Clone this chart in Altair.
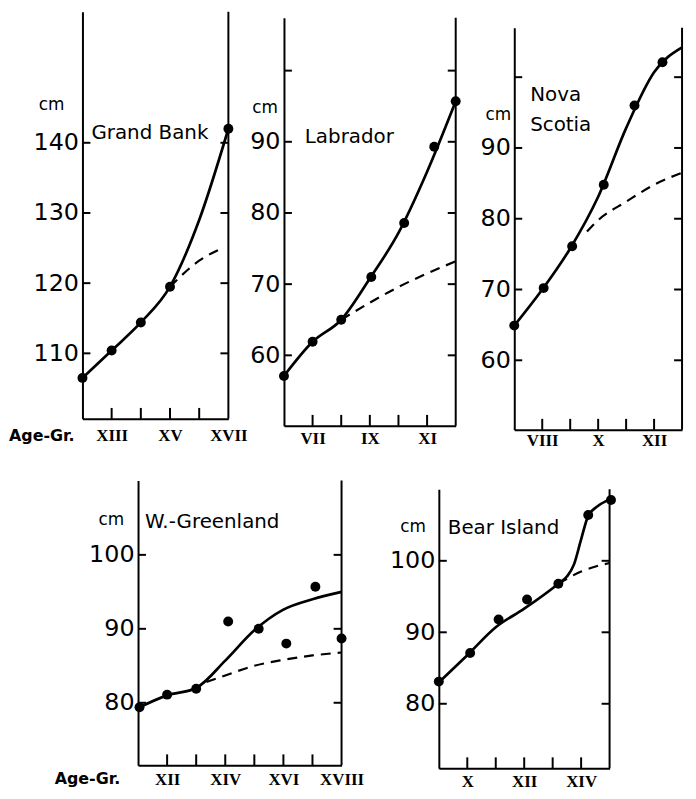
import altair as alt
import pandas as pd

FONT = "DejaVu Sans"
ROMAN_FONT = "Liberation Serif"

# ---------------- data ----------------
# Grand Bank
gb_dot_age = [12, 13, 14, 15, 17]
gb_dot_cm = [106.5, 110.4, 114.4, 119.5, 142.0]
gb_fit_age = [12, 13, 14, 15, 16, 17]
gb_fit_cm = [106.5, 110.4, 114.4, 119.5, 129.0, 142.0]
gb_dash_age = [15, 16, 16.85]
gb_dash_cm = [119.5, 123.2, 125.1]
gb_xlab_vals = [13, 15, 17]
gb_xlab_text = ["XIII", "XV", "XVII"]
gb_xtick_vals = [13, 14, 15, 16]
gb_ylab_vals = [110, 120, 130, 140]
gb_ytick_vals = [110, 120, 130, 140]

# Labrador
lab_dot_age = [6, 7, 8, 9.05, 10.2, 11.25, 12]
lab_dot_cm = [57.1, 61.9, 65.0, 71.0, 78.6, 89.3, 95.7]
lab_fit_age = [6, 7, 8, 9, 10, 11, 12]
lab_fit_cm = [57.1, 61.9, 65.0, 70.8, 77.2, 85.8, 95.7]
lab_dash_age = [8, 9, 10, 11, 12]
lab_dash_cm = [65.0, 67.4, 69.6, 71.5, 73.2]
lab_xlab_vals = [7, 9, 11]
lab_xlab_text = ["VII", "IX", "XI"]
lab_xtick_vals = [7, 8, 9, 10, 11]
lab_ylab_vals = [60, 70, 80, 90]
lab_ytick_vals = [60, 70, 80, 90, 100]

# Nova Scotia
ns_dot_age = [7, 8.05, 9.07, 10.2, 11.3, 12.3]
ns_dot_cm = [64.9, 70.2, 76.1, 84.8, 96.0, 102.1]
ns_fit_age = [7, 8, 9, 10, 11, 12, 13]
ns_fit_cm = [64.9, 70.0, 75.8, 83.1, 92.8, 100.7, 104.2]
ns_dash_age = [9.6, 10, 11, 12, 13]
ns_dash_cm = [78.2, 79.8, 82.4, 84.8, 86.5]
ns_xlab_vals = [8, 10, 12]
ns_xlab_text = ["VIII", "X", "XII"]
ns_xtick_vals = [8, 9, 10, 11, 12]
ns_ylab_vals = [60, 70, 80, 90]
ns_ytick_vals = [60, 70, 80, 90, 100]

# W.-Greenland
wg_dot_age = [11.05, 12, 13, 14.1, 15.15, 16.1, 17.1, 18]
wg_dot_cm = [79.4, 81.1, 81.9, 91.0, 90.0, 88.0, 95.7, 88.7]
wg_fit_age = [11, 12, 13, 14, 15, 16, 17, 18]
wg_fit_cm = [79.3, 81.0, 82.0, 85.7, 89.8, 92.6, 94.0, 95.0]
wg_dash_age = [13.35, 14, 15, 16, 17, 18]
wg_dash_cm = [82.8, 83.7, 85.0, 85.8, 86.4, 86.8]
wg_xlab_vals = [12, 14, 16, 18]
wg_xlab_text = ["XII", "XIV", "XVI", "XVIII"]
wg_xtick_vals = [12, 13, 14, 15, 16, 17]
wg_ylab_vals = [80, 90, 100]
wg_ytick_vals = [80, 90, 100]

# Bear Island
bi_dot_age = [9, 10.1, 11.1, 12.1, 13.2, 14.25, 15.05]
bi_dot_cm = [83.1, 87.1, 91.8, 94.6, 96.8, 106.4, 108.5]
bi_fit_age = [9, 10, 11, 12, 13.2, 13.5, 13.75, 14, 14.25, 14.6, 15]
bi_fit_cm = [83.0, 86.8, 90.7, 93.3, 96.8, 97.8, 99.5, 103.0, 106.3, 107.7, 108.6]
bi_dash_age = [13.2, 14, 15]
bi_dash_cm = [96.8, 98.5, 99.7]
bi_xlab_vals = [10, 12, 14]
bi_xlab_text = ["X", "XII", "XIV"]
bi_xtick_vals = [10, 11, 12, 13, 14]
bi_ylab_vals = [80, 90, 100]
bi_ytick_vals = [80, 90, 100]

# text
titles = ["Grand Bank", "Labrador", "Nova", "Scotia", "W.-Greenland", "Bear Island"]
unit_label = "cm"
age_label = "Age-Gr."

W, H = 680, 779
M = 8  # page margin


def roman_expr(vals, labels):
    expr = "''"
    for v, l in reversed(list(zip(vals, labels))):
        expr = f"datum.value == {v} ? '{l}' : ({expr})"
    return expr


def text_layer(txt, x, y, size, align="left", weight="normal"):
    return alt.Chart(pd.DataFrame({"t": [txt]})).mark_text(
        align=align, baseline="middle", font=FONT, fontSize=size,
        fontWeight=weight, color="black"
    ).encode(text="t:N", x=alt.value(x - M), y=alt.value(y - M))


def panel(box, xdom, yref, ppu, dot_age, dot_cm, fit_age, fit_cm,
          dash_age, dash_cm, xlab_vals, xlab_text, xtick_vals,
          ylab_vals, ytick_vals, xlab_pad, texts):
    # box: page pixel positions of left/right/top/bottom axis lines
    x0, x1, top, bot = [v - M for v in box]
    ref_val, ref_pix = yref
    ref_pix -= M
    ydom = [ref_val - (bot - ref_pix) / ppu, ref_val + (ref_pix - top) / ppu]
    X = alt.X("age:Q", title=None,
              scale=alt.Scale(domain=xdom, range=[x0, x1], nice=False, zero=False),
              axis=alt.Axis(orient="bottom", offset=bot - H, values=xlab_vals,
                            labelExpr=roman_expr(xlab_vals, xlab_text),
                            title=None, ticks=False, tickSize=0, grid=False, domainWidth=2,
                            domainColor="black", labelFont=ROMAN_FONT,
                            labelFontWeight="bold", labelFontSize=17,
                            labelBaseline="middle", labelPadding=xlab_pad,
                            labelColor="black", labelFlush=False, labelOverlap=False))
    Y = alt.Y("cm:Q", title=None,
              scale=alt.Scale(domain=ydom, range=[bot, top], nice=False, zero=False),
              axis=alt.Axis(orient="left", offset=-x0, values=ylab_vals, format="d",
                            title=None, ticks=False, tickSize=0, grid=False,
                            domainWidth=2, domainColor="black",
                            labelFont=FONT, labelFontSize=24, labelPadding=4,
                            labelColor="black", labelFlush=False, labelOverlap=False))
    fit = alt.Chart(pd.DataFrame({"age": fit_age, "cm": fit_cm})).mark_line(
        color="black", strokeWidth=2.7, interpolate="monotone").encode(x=X, y=Y)
    dash = alt.Chart(pd.DataFrame({"age": dash_age, "cm": dash_cm})).mark_line(
        color="black", strokeWidth=2.2, strokeDash=[10, 7],
        interpolate="monotone").encode(x=X, y=Y)
    dots = alt.Chart(pd.DataFrame({"age": dot_age, "cm": dot_cm})).mark_circle(
        color="black", size=100, opacity=1).encode(x=X, y=Y)
    ytk = pd.DataFrame({"cm": ytick_vals})
    lt = alt.Chart(ytk).mark_rule(color="black", strokeWidth=2).encode(
        y=Y, x=alt.value(x0), x2=alt.value(x0 + 8))
    rt = alt.Chart(ytk).mark_rule(color="black", strokeWidth=2).encode(
        y=Y, x=alt.value(x1 - 8), x2=alt.value(x1))
    bt = alt.Chart(pd.DataFrame({"age": xtick_vals})).mark_rule(
        color="black", strokeWidth=2).encode(x=X, y=alt.value(bot - 11), y2=alt.value(bot))
    raxis = alt.Chart(pd.DataFrame({"age": [xdom[1]]})).mark_rule(
        color="black", strokeWidth=2).encode(x=X, y=alt.value(top), y2=alt.value(bot))
    layers = [fit, dash, dots, lt, rt, bt, raxis] + [text_layer(*t) for t in texts]
    return alt.layer(*layers)


gb = panel((83, 230, 6, 416), [12, 17], (110, 350), 7.07,
           gb_dot_age, gb_dot_cm, gb_fit_age, gb_fit_cm, gb_dash_age, gb_dash_cm,
           gb_xlab_vals, gb_xlab_text, gb_xtick_vals, gb_ylab_vals, gb_ytick_vals, 17,
           [(titles[0], 92, 128, 20), (unit_label, 52, 100, 17, "center"),
            (age_label, 9, 433, 16, "left", "bold")])
lab = panel((286, 459, 12, 423), [6, 12], (60, 352), 7.17,
            lab_dot_age, lab_dot_cm, lab_fit_age, lab_fit_cm, lab_dash_age, lab_dash_cm,
            lab_xlab_vals, lab_xlab_text, lab_xtick_vals, lab_ylab_vals, lab_ytick_vals, 13,
            [(titles[1], 307, 132, 20), (unit_label, 267, 103, 17, "center")])
ns = panel((518, 687, 22, 427), [7, 13], (60, 357), 7.13,
           ns_dot_age, ns_dot_cm, ns_fit_age, ns_fit_cm, ns_dash_age, ns_dash_cm,
           ns_xlab_vals, ns_xlab_text, ns_xtick_vals, ns_ylab_vals, ns_ytick_vals, 11,
           [(titles[2], 534, 90, 20), (titles[3], 534, 120, 20),
            (unit_label, 502, 110, 17, "center")])
wg = panel((139, 344, 478, 765), [11, 18], (80, 702), 7.45,
           wg_dot_age, wg_dot_cm, wg_fit_age, wg_fit_cm, wg_dash_age, wg_dash_cm,
           wg_xlab_vals, wg_xlab_text, wg_xtick_vals, wg_ylab_vals, wg_ytick_vals, 14,
           [(titles[4], 146, 520, 20), (unit_label, 112, 518, 17, "center"),
            (age_label, 55, 779, 16, "left", "bold")])
bi = panel((442, 614, 487, 768), [9, 15], (80, 703), 7.2,
           bi_dot_age, bi_dot_cm, bi_fit_age, bi_fit_cm, bi_dash_age, bi_dash_cm,
           bi_xlab_vals, bi_xlab_text, bi_xtick_vals, bi_ylab_vals, bi_ytick_vals, 13,
           [(titles[5], 451, 526, 20), (unit_label, 416, 525, 17, "center")])

chart = alt.layer(gb, lab, ns, wg, bi).resolve_scale(
    x="independent", y="independent"
).properties(
    width=W, height=H, padding=0, background="white"
).configure_view(strokeWidth=0)

chart.save("out.html", embed_options={"renderer": "svg", "actions": False})
